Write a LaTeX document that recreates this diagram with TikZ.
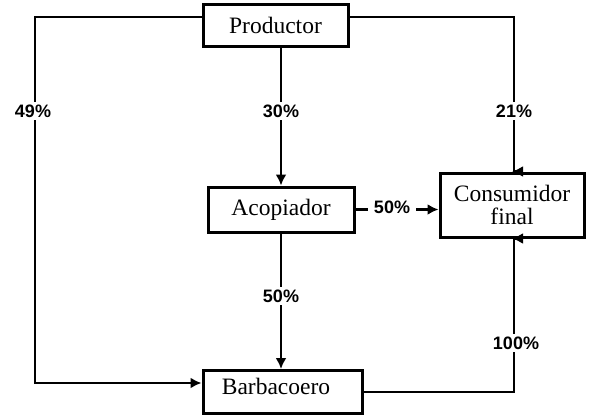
\documentclass[tikz,border=0pt]{standalone}
\usepackage{fontspec}
\setmainfont{Liberation Serif}
\newfontfamily\lblfont{Liberation Sans}
\usetikzlibrary{arrows.meta,calc}
\begin{document}
\begin{tikzpicture}[x=1pt,y=-1pt,
  box/.style={draw,line width=3pt,rectangle,inner sep=0pt,font=\fontsize{23.5}{23.5}\selectfont,align=center},
  conn/.style={line width=2.6pt},
  arr/.style={conn,-{Latex[length=11pt,width=11pt]}},
  pct/.style={fill=white,inner sep=3pt,font=\lblfont\bfseries\fontsize{18}{20}\selectfont}]
\useasboundingbox (0,0) rectangle (591,415);
\node[box,minimum width=145pt,minimum height=42pt] (prod) at (275.5,25) {Productor};
\node[box,minimum width=146pt,minimum height=45pt] (acop) at (281,209.5) {Acopiador};
\node[box,minimum width=144pt,minimum height=64pt] (cons) at (512,205) {Consumidor\\final};
\node[box,minimum width=159pt,minimum height=43pt] (barb) at (282.5,392) {};
\node[font=\fontsize{23.5}{23.5}\selectfont] (barbt) at (276,386) {Barbacoero};
\coordinate (lc) at (35,0);
\coordinate (rc) at (514,0);
\coordinate (pl) at ([yshift=8pt]prod.west);
\coordinate (pr) at ([yshift=8pt]prod.east);
\coordinate (bl) at ([yshift=9pt]barb.west);
% left branch
\draw[arr] (pl) -| (lc |- bl) -- (bl);
\node[pct] (p49) at (33,111) {49\%};
% right branch
\draw[arr] (pr) -| (rc |- cons.north) -- (cons.north);
\node[pct] (p21) at (514,111) {21\%};
% centre
\draw[arr] (prod.south -| acop.north) -- (acop.north);
\node[pct] (p30) at (281,111) {30\%};
\draw[arr] (acop.south) -- (acop.south |- barb.north);
\node[pct] (p50b) at (281,296) {50\%};
\draw[arr] (acop.east) -- (acop.east -| cons.west);
\node[pct,inner xsep=6pt] (p50a) at (392,207) {50\%};
% bottom right
\draw[arr] (barb.east) -| (rc |- cons.south) -- (cons.south);
\node[pct] (p100) at (516,343) {100\%};
\end{tikzpicture}
\end{document}
